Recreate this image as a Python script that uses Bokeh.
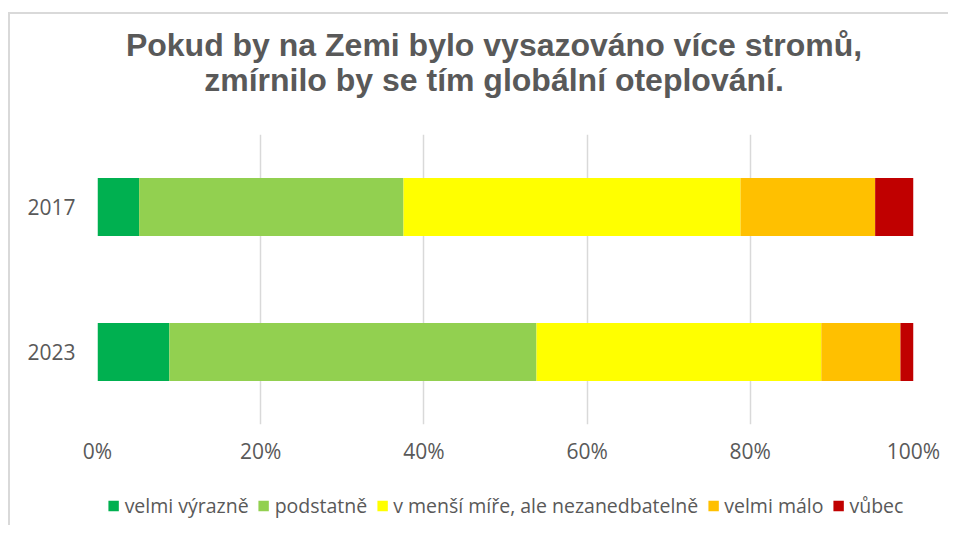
from bokeh.plotting import figure
from bokeh.layouts import column
from bokeh.models import (FactorRange, Range1d, PrintfTickFormatter, FixedTicker,
                          Legend, LegendItem)
from bokeh.core.properties import value
from bokeh.embed import file_html
from bokeh.resources import INLINE

title_lines = ["Pokud by na Zemi bylo vysazováno více stromů,",
               "zmírnilo by se tím globální oteplování."]
years = ["2023", "2017"]
series_labels = ["velmi výrazně", "podstatně", "v menší míře, ale nezanedbatelně",
                 "velmi málo", "vůbec"]
velmi_vyrazne = [8.8, 5.1]
podstatne = [45.0, 32.4]
mensi_mire = [34.9, 41.3]
velmi_malo = [9.7, 16.5]
vubec = [1.6, 4.7]
x_ticks = [0, 20, 40, 60, 80, 100]
colors = ["#00B050", "#92D050", "#FFFF00", "#FFC000", "#C00000"]

keys = ["s0", "s1", "s2", "s3", "s4"]
data = dict(year=years, s0=velmi_vyrazne, s1=podstatne, s2=mensi_mire,
            s3=velmi_malo, s4=vubec)

TXT = "#595959"
FONT = "Open Sans"
W = 938


def strip(height, xr, yr):
    fig = figure(width=W, height=height, output_backend="svg",
                 toolbar_location=None, x_range=xr, y_range=yr,
                 x_axis_location=None, y_axis_location=None,
                 min_border_left=0, min_border_right=0,
                 min_border_top=0, min_border_bottom=0)
    fig.grid.grid_line_color = None
    fig.outline_line_color = None
    return fig


# ---- title strip (frame is aligned with the chart frame) ----
TH = 120
pt = strip(TH, Range1d(97, 913), Range1d(TH, 0))
pt.text(x=[493.5] * 2, y=[30, 65], text=title_lines,
        text_font=value("Liberation Sans"), text_font_size="32px",
        text_font_style="bold", text_color=TXT,
        text_align="center", text_baseline="middle")

# ---- main chart ----
p = figure(frame_width=816, frame_height=290, output_backend="svg",
           toolbar_location=None,
           y_range=FactorRange(factors=years, range_padding=0),
           x_range=Range1d(0, 100),
           min_border_left=87, min_border_right=35, min_border_top=0,
           min_border_bottom=45)

rs = p.hbar_stack(keys, y="year", height=0.4, color=colors, line_color=None,
                  source=data)

p.xaxis.ticker = FixedTicker(ticks=x_ticks)
p.xaxis.formatter = PrintfTickFormatter(format="%d%%")
for ax in (p.xaxis[0], p.yaxis[0]):
    ax.axis_line_color = None
    ax.major_tick_line_color = None
    ax.minor_tick_line_color = None
    ax.major_tick_out = 0
    ax.major_tick_in = 0
    ax.major_label_text_font = FONT
    ax.major_label_text_font_size = "21px"
    ax.major_label_text_color = TXT
p.xaxis.major_label_standoff = 12
p.yaxis.major_label_standoff = 22

p.xgrid.ticker = FixedTicker(ticks=x_ticks)
p.xgrid.grid_line_color = "#d9d9d9"
p.xgrid.grid_line_width = 1.5
p.ygrid.grid_line_color = None
p.outline_line_color = None

# ---- legend strip ----
LH = 56
pl = strip(LH, Range1d(0, 1), Range1d(0, 1))
proxies = [pl.hbar(y=[-5], left=[0], right=[1], height=1, fill_color=c,
                   line_color=None) for c in colors]
items = [LegendItem(label=l, renderers=[r]) for l, r in zip(series_labels, proxies)]
legend = Legend(items=items, orientation="horizontal", location="bottom_center",
                border_line_color=None, background_fill_alpha=0,
                label_text_font=FONT, label_text_font_size="19.5px",
                label_text_color=TXT, glyph_width=13, glyph_height=13,
                label_standoff=5, spacing=8, padding=3, margin=6)
pl.add_layout(legend)

layout = column(pt, p, pl, spacing=0)
layout.styles = {"border-top": "2px solid #d9d9d9", "border-left": "2px solid #d9d9d9"}
layout.margin = (12, 0, 0, 8)

open("out.html", "w").write(file_html(layout, INLINE))
